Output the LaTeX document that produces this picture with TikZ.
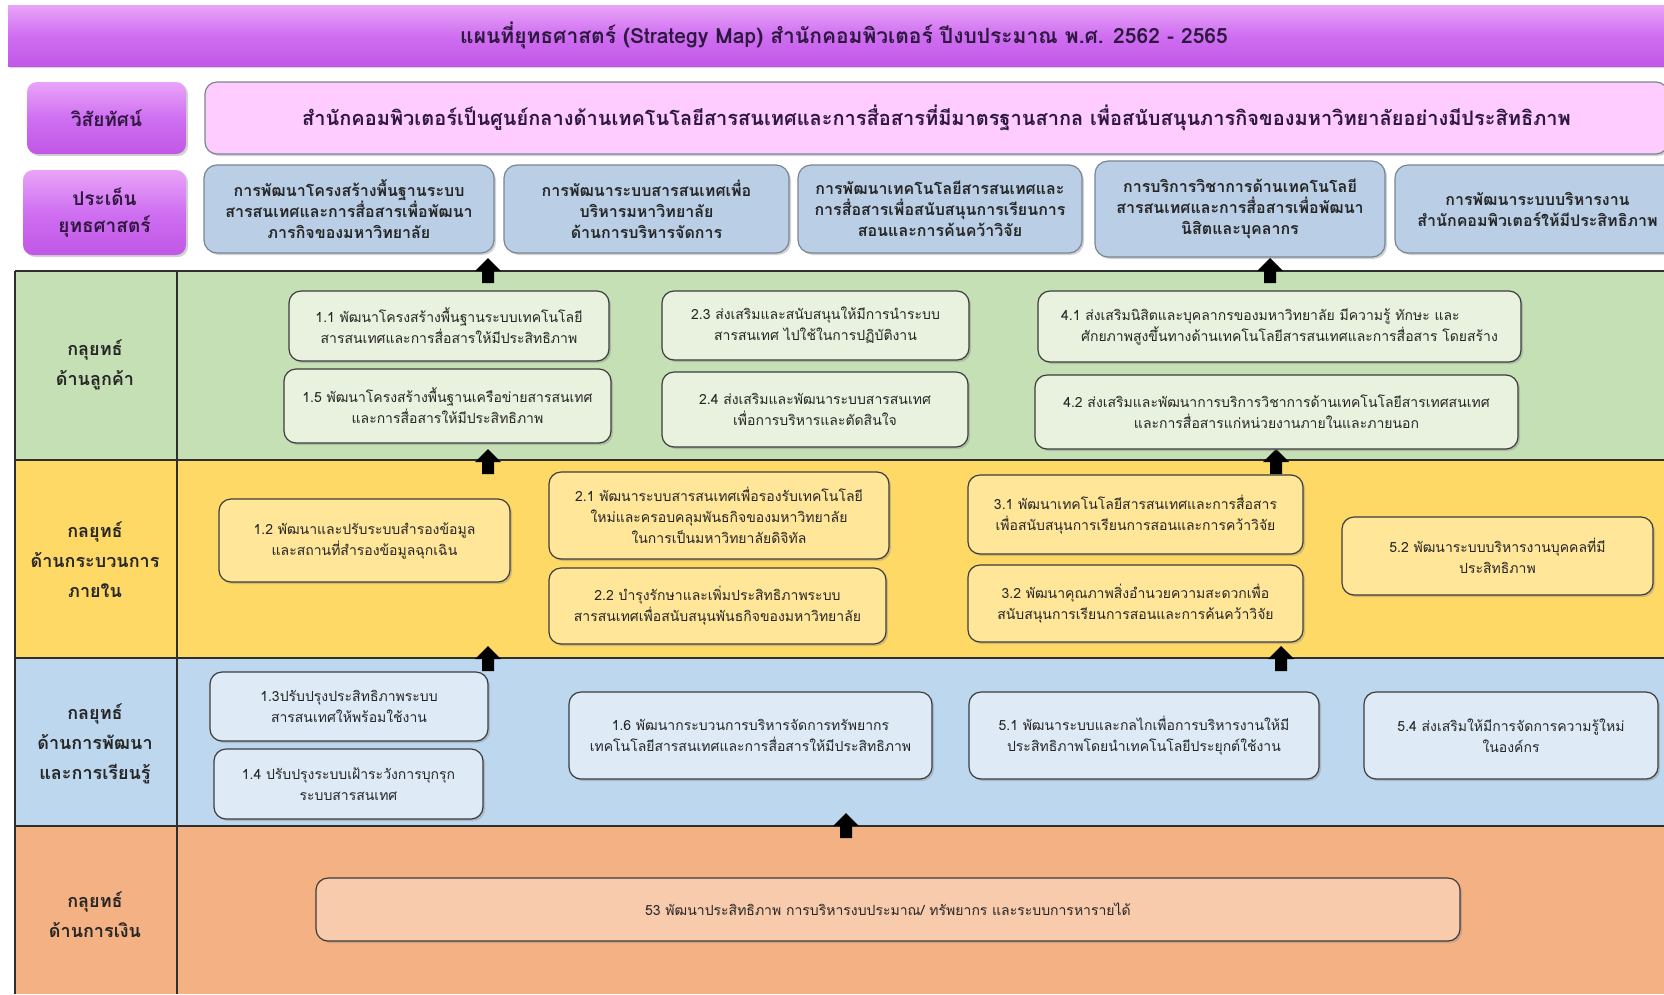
\documentclass[tikz,border=0pt]{standalone}
\usepackage{fontspec}
\newfontfamily\thai[Script=Thai]{Loma}
\usetikzlibrary{shadows}
\definecolor{txt}{HTML}{262626}
\definecolor{ttl}{HTML}{2E1840}
\definecolor{hdrtop}{HTML}{E9A4F8}
\definecolor{hdrmid}{HTML}{CF6FF1}
\definecolor{hdrbot}{HTML}{C157E6}
\definecolor{visfill}{HTML}{FFCCFF}
\definecolor{issfill}{HTML}{BACFE6}
\definecolor{issline}{HTML}{7A8594}
\definecolor{gband}{HTML}{C5E0B4}
\definecolor{gboxc}{HTML}{E9F2DF}
\definecolor{yband}{HTML}{FFD966}
\definecolor{yboxc}{HTML}{FFE699}
\definecolor{bband}{HTML}{BDD7EE}
\definecolor{bboxc}{HTML}{DEEBF7}
\definecolor{oband}{HTML}{F4B183}
\definecolor{oboxc}{HTML}{F8CBAD}
\definecolor{boxline}{HTML}{3C3C3C}
\definecolor{bandline}{HTML}{2F2F2F}
\newcommand{\fs}[2]{\fontsize{#1}{#2}\selectfont}
\newcommand{\boxnode}[7]{\node[#2, minimum width={#5-#3}, minimum height={#6-#4}] (#1) at ({(#3+#5)/2},{(#4+#6)/2}) {#7};}
\begin{document}
\begin{tikzpicture}[x=1pt,y=-1pt,font=\thai,
  shad/.style={drop shadow={shadow xshift=2pt,shadow yshift=-2pt,opacity=0.35}},
  hdr/.style={top color=hdrtop,bottom color=hdrbot,middle color=hdrmid,draw=none,inner sep=0pt,text=ttl,font=\thai\bfseries\fs{21}{25},shad},
  plabel/.style={rounded corners=10pt,top color=hdrtop,bottom color=hdrbot,middle color=hdrmid,draw=none,inner sep=0pt,align=center,text=ttl,font=\thai\bfseries\fs{19}{27},shad},
  visbox/.style={rounded corners=12pt,fill=visfill,draw=issline,line width=1.2pt,inner sep=0pt,text=ttl,font=\thai\bfseries\fs{20}{24},shad},
  issbox/.style={rounded corners=13pt,fill=issfill,draw=issline,line width=1.2pt,inner sep=0pt,align=center,text=txt,font=\thai\bfseries\fs{16}{21},shad},
  sbox/.style={rounded corners=12pt,draw=boxline,line width=1.2pt,inner sep=0pt,align=center,text=txt,font=\thai\fs{14}{21},shad},
  gbox/.style={sbox,fill=gboxc},
  ybox/.style={sbox,fill=yboxc},
  bbox/.style={sbox,fill=bboxc},
  obox/.style={sbox,fill=oboxc},
  rowlabel/.style={align=center,text=txt,font=\thai\bfseries\fs{18}{30},inner sep=0pt},
  bandrule/.style={draw=bandline,line width=1.6pt},
  uparrow/.pic={\fill[black] (-6,0) -- (-6,-12) -- (-13,-12) -- (0,-25) -- (13,-12) -- (6,-12) -- (6,0) -- cycle;}
]
\useasboundingbox (0,0) rectangle (1664,994);
\clip (0,0) rectangle (1664,994);
\fill[white] (0,0) rectangle (1664,994);

% header
\boxnode{title}{hdr}{8}{5}{1680}{66}{แผนที่ยุทธศาสตร์ (Strategy Map) สำนักคอมพิวเตอร์ ปีงบประมาณ พ.ศ. 2562 - 2565}

% vision
\boxnode{vislab}{plabel}{27}{82}{186}{154}{วิสัยทัศน์}
\boxnode{vision}{visbox}{205}{82}{1668}{154}{สำนักคอมพิวเตอร์เป็นศูนย์กลางด้านเทคโนโลยีสารสนเทศและการสื่อสารที่มีมาตรฐานสากล เพื่อสนับสนุนภารกิจของมหาวิทยาลัยอย่างมีประสิทธิภาพ}

% strategic issues
\boxnode{isslab}{plabel}{23}{170}{186}{255}{ประเด็น\\ยุทธศาสตร์}
\boxnode{i1}{issbox}{204}{165}{494}{253}{การพัฒนาโครงสร้างพื้นฐานระบบ\\สารสนเทศและการสื่อสารเพื่อพัฒนา\\ภารกิจของมหาวิทยาลัย}
\boxnode{i2}{issbox}{504}{165}{789}{253}{การพัฒนาระบบสารสนเทศเพื่อ\\บริหารมหาวิทยาลัย\\ด้านการบริหารจัดการ}
\boxnode{i3}{issbox}{798}{165}{1082}{253}{การพัฒนาเทคโนโลยีสารสนเทศและ\\การสื่อสารเพื่อสนับสนุนการเรียนการ\\สอนและการค้นคว้าวิจัย}
\boxnode{i4}{issbox}{1095}{161}{1385}{257}{การบริการวิชาการด้านเทคโนโลยี\\สารสนเทศและการสื่อสารเพื่อพัฒนา\\นิสิตและบุคลากร}
\boxnode{i5}{issbox}{1395}{165}{1680}{253}{การพัฒนาระบบบริหารงาน\\สำนักคอมพิวเตอร์ให้มีประสิทธิภาพ}

% bands
\fill[gband] (15,271) rectangle (1664,460);
\fill[yband] (15,460) rectangle (1664,658);
\fill[bband] (15,658) rectangle (1664,826);
\fill[oband] (15,826) rectangle (1664,994);
\draw[bandrule] (15,271) -- (1664,271);
\draw[bandrule] (15,460) -- (1664,460);
\draw[bandrule] (15,658) -- (1664,658);
\draw[bandrule] (15,826) -- (1664,826);
\draw[bandrule] (15,271) -- (15,994);
\draw[bandrule] (177,271) -- (177,994);

\node[rowlabel] (r1) at (95,365) {กลุยทธ์\\ด้านลูกค้า};
\node[rowlabel] (r2) at (95,560) {กลยุทธ์\\ด้านกระบวนการ\\ภายใน};
\node[rowlabel] (r3) at (95,744) {กลยุทธ์\\ด้านการพัฒนา\\และการเรียนรู้};
\node[rowlabel] (r4) at (95,915) {กลุยทธ์\\ด้านการเงิน};

% arrows
\pic at (488,283) {uparrow};
\pic at (1270,283) {uparrow};
\pic at (488,474) {uparrow};
\pic at (1276,474) {uparrow};
\pic at (488,671) {uparrow};
\pic at (1281,671) {uparrow};
\pic at (846,838) {uparrow};

% customer
\boxnode{s11}{gbox}{289}{291}{609}{361}{1.1 พัฒนาโครงสร้างพื้นฐานระบบเทคโนโลยี\\สารสนเทศและการสื่อสารให้มีประสิทธิภาพ}
\boxnode{s15}{gbox}{284}{369}{611}{443}{1.5 พัฒนาโครงสร้างพื้นฐานเครือข่ายสารสนเทศ\\และการสื่อสารให้มีประสิทธิภาพ}
\boxnode{s23}{gbox}{662}{291}{969}{360}{2.3 ส่งเสริมและสนับสนุนให้มีการนำระบบ\\สารสนเทศ ไปใช้ในการปฏิบัติงาน}
\boxnode{s24}{gbox}{662}{372}{968}{447}{2.4 ส่งเสริมและพัฒนาระบบสารสนเทศ\\เพื่อการบริหารและตัดสินใจ}
\boxnode{s41}{gbox,align=left}{1038}{291}{1521}{362}{4.1 ส่งเสริมนิสิตและบุคลากรของมหาวิทยาลัย มีความรู้ ทักษะ และ\\\hspace*{20pt}ศักยภาพสูงขึ้นทางด้านเทคโนโลยีสารสนเทศและการสื่อสาร โดยสร้าง}
\boxnode{s42}{gbox}{1035}{375}{1518}{449}{4.2 ส่งเสริมและพัฒนาการบริการวิชาการด้านเทคโนโลยีสารเทศสนเทศ\\และการสื่อสารแก่หน่วยงานภายในและภายนอก}

% internal process
\boxnode{s12}{ybox}{219}{499}{510}{582}{1.2 พัฒนาและปรับระบบสำรองข้อมูล\\และสถานที่สำรองข้อมูลฉุกเฉิน}
\boxnode{s21}{ybox}{549}{472}{889}{559}{2.1 พัฒนาระบบสารสนเทศเพื่อรองรับเทคโนโลยี\\ใหม่และครอบคลุมพันธกิจของมหาวิทยาลัย\\ในการเป็นมหาวิทยาลัยดิจิทัล}
\boxnode{s22}{ybox}{549}{568}{886}{644}{2.2 บำรุงรักษาและเพิ่มประสิทธิภาพระบบ\\สารสนเทศเพื่อสนับสนุนพันธกิจของมหาวิทยาลัย}
\boxnode{s31}{ybox}{968}{475}{1303}{554}{3.1 พัฒนาเทคโนโลยีสารสนเทศและการสื่อสาร\\เพื่อสนับสนุนการเรียนการสอนและการคว้าวิจัย}
\boxnode{s32}{ybox}{968}{565}{1303}{642}{3.2 พัฒนาคุณภาพสิ่งอำนวยความสะดวกเพื่อ\\สนับสนุนการเรียนการสอนและการค้นคว้าวิจัย}
\boxnode{s52}{ybox}{1342}{517}{1653}{595}{5.2 พัฒนาระบบบริหารงานบุคคลที่มี\\ประสิทธิภาพ}

% learning and growth
\boxnode{s13}{bbox}{210}{672}{488}{741}{1.3ปรับปรุงประสิทธิภาพระบบ\\สารสนเทศให้พร้อมใช้งาน}
\boxnode{s14}{bbox}{214}{749}{483}{819}{1.4 ปรับปรุงระบบเฝ้าระวังการบุกรุก\\ระบบสารสนเทศ}
\boxnode{s16}{bbox}{569}{692}{932}{779}{1.6 พัฒนากระบวนการบริหารจัดการทรัพยากร\\เทคโนโลยีสารสนเทศและการสื่อสารให้มีประสิทธิภาพ}
\boxnode{s51}{bbox}{969}{692}{1319}{779}{5.1 พัฒนาระบบและกลไกเพื่อการบริหารงานให้มี\\ประสิทธิภาพโดยนำเทคโนโลยีประยุกต์ใช้งาน}
\boxnode{s54}{bbox}{1364}{692}{1658}{779}{5.4 ส่งเสริมให้มีการจัดการความรู้ใหม่\\ในองค์กร}

% finance
\boxnode{s53}{obox}{316}{878}{1460}{941}{53 พัฒนาประสิทธิภาพ การบริหารงบประมาณ/ ทรัพยากร และระบบการหารายได้}
\end{tikzpicture}
\end{document}
